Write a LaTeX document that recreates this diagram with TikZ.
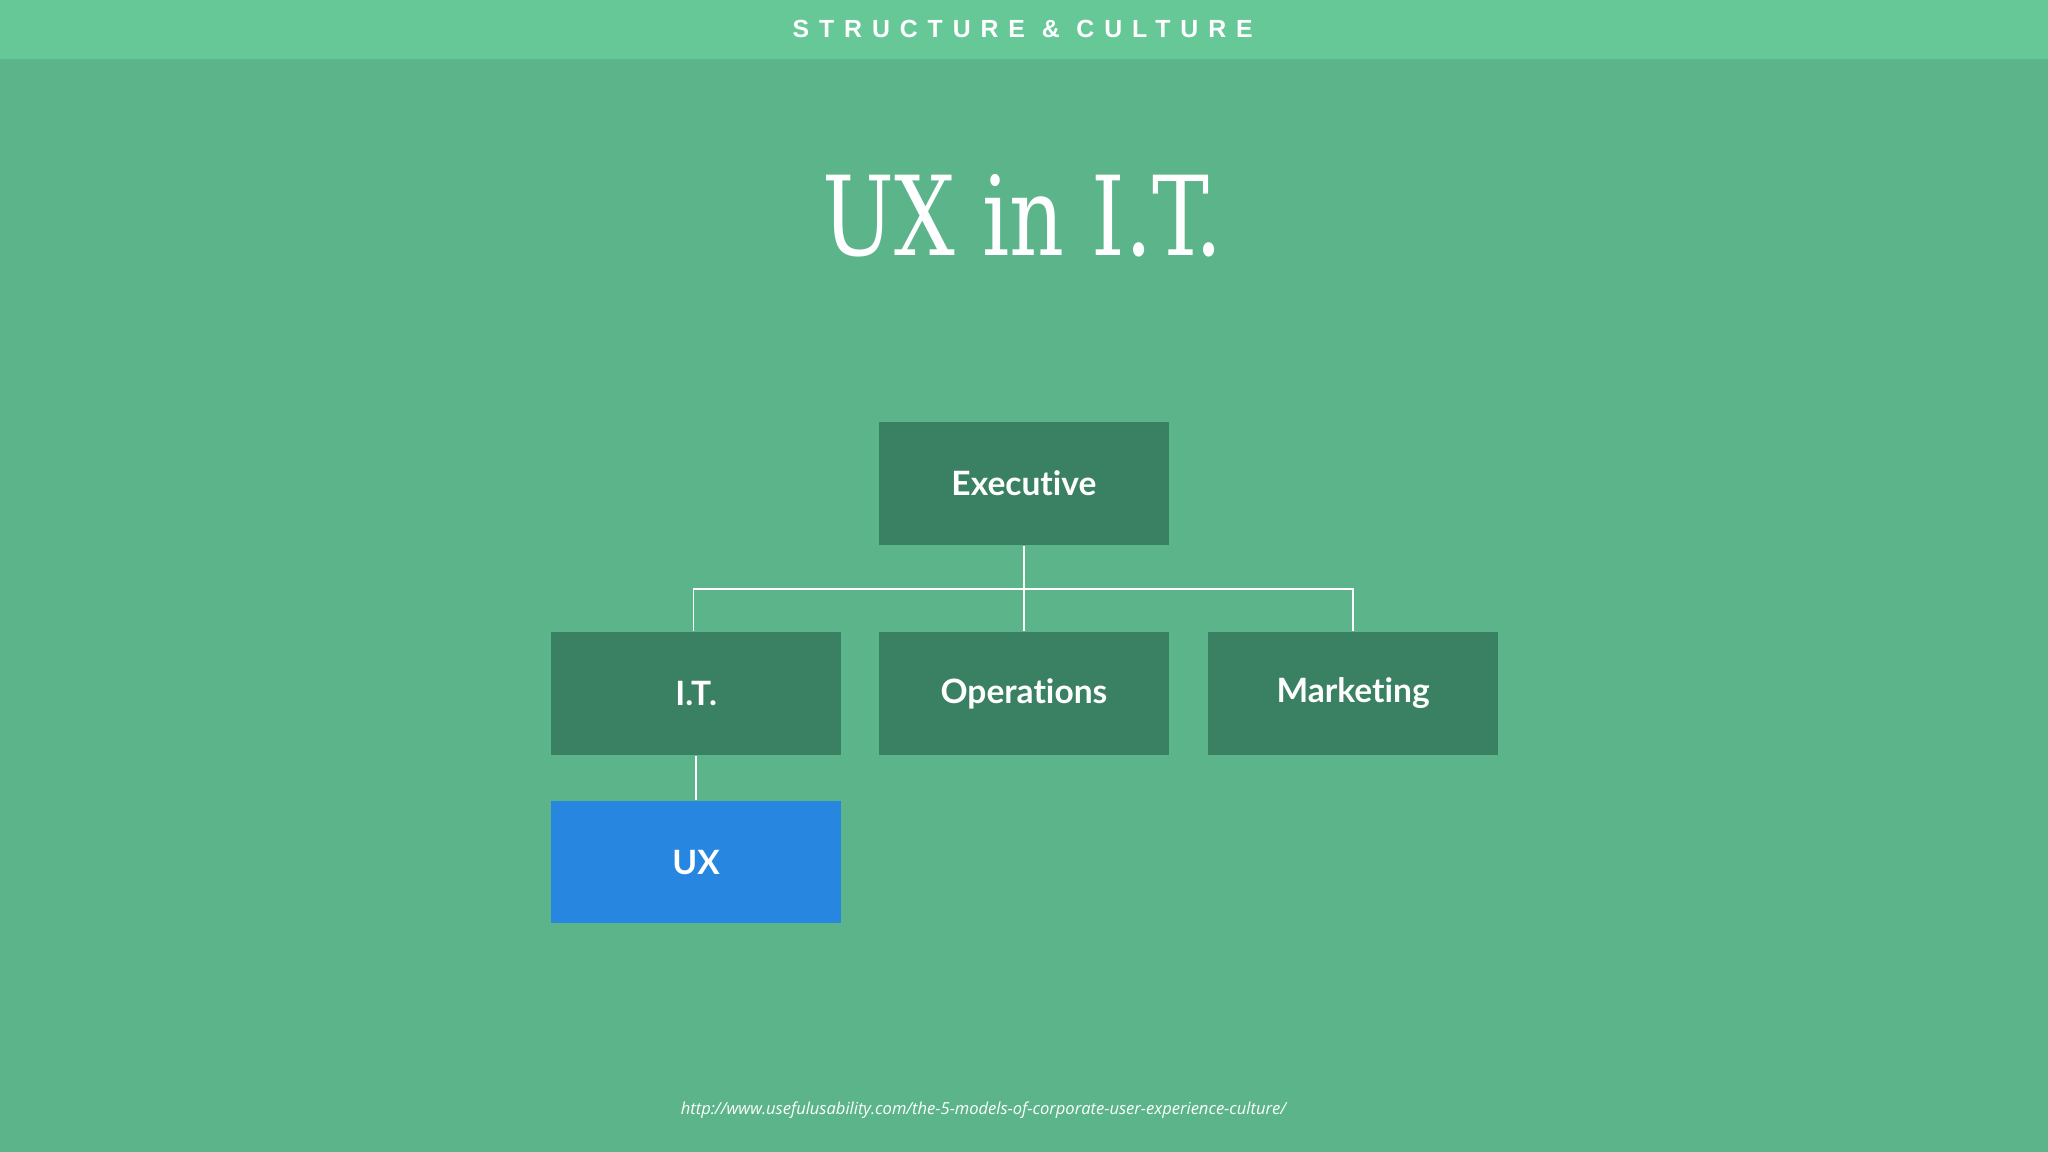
\documentclass[tikz,border=0pt]{standalone}
\usepackage{fontspec}
\setmainfont{Lato}[Ligatures=NoCommon]
\newfontfamily\hdrfont[LetterSpace=40]{Liberation Sans}
\newfontfamily\titlefont{DejaVu Serif Condensed}
\newfontfamily\urlfont{Open Sans}
\definecolor{bg}{HTML}{5CB58A}
\definecolor{band}{HTML}{66C797}
\definecolor{boxc}{HTML}{3A8062}
\definecolor{uxc}{HTML}{2686E0}
\begin{document}
\begin{tikzpicture}[x=0.01cm,y=-0.01cm,
  orgbox/.style={fill=boxc,minimum width=2.22cm,minimum height=0.94cm,inner sep=0,text=white,font=\fontsize{7.3}{8}\selectfont\bfseries},
  link/.style={draw=white,line width=0.35pt}]
\fill[bg] (0,0) rectangle (1568,882);
\fill[band] (0,0) rectangle (1568,45);
\useasboundingbox (0,0) rectangle (1568,882);
\node[text=white,font=\hdrfont\bfseries\fontsize{5.4}{6}\selectfont] (hdr) at (783,22) {STRUCTURE \& CULTURE};
\node[text=white,font=\titlefont\fontsize{24}{28}\selectfont,xscale=0.86] (title) at (783,165) {UX in I.T.};
\node[orgbox] (exec) at (784,370) {\raisebox{-1.5pt}{Executive}};
\node[orgbox] (it) at (533,531) {\raisebox{-1.5pt}{I.T.}};
\node[orgbox] (ops) at (784,531) {\raisebox{-1.5pt}{Operations}};
\node[orgbox] (mkt) at (1036,531) {\raisebox{-1.5pt}{Marketing}};
\node[orgbox,fill=uxc] (ux) at (533,660) {\raisebox{-1.5pt}{UX}};
\coordinate (bus) at (784,451);
\draw[link] (exec.south) -- (bus);
\draw[link] (ops.north) -- (bus);
\draw[link] (it.north -| 531,0) |- (bus) -| (mkt.north);
\draw[link] (it.south) -- (ux.north);
\node[text=white,font=\urlfont\itshape\fontsize{3.6}{4}\selectfont] (url) at (753,850) {http://www.usefulusability.com/the-5-models-of-corporate-user-experience-culture/};
\end{tikzpicture}
\end{document}
